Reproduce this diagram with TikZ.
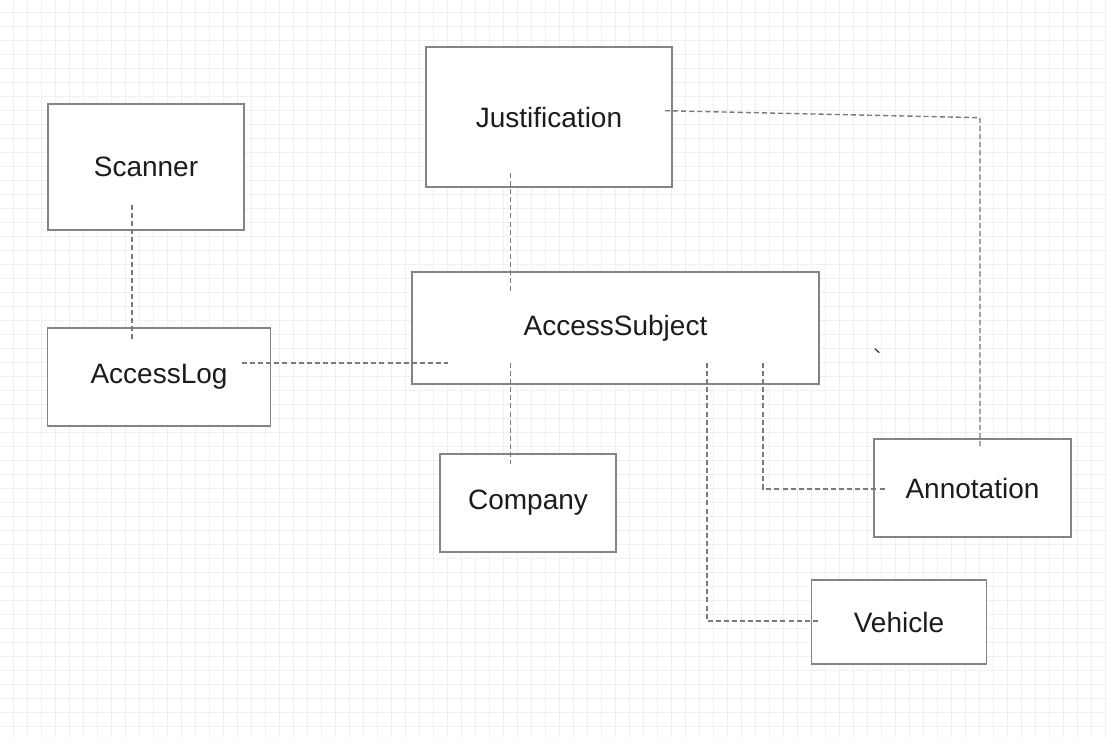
\documentclass[tikz,border=0pt]{standalone}
\usepackage{fontspec}
\setmainfont{Liberation Sans}
\usepackage{xcolor}
\usetikzlibrary{positioning}

\definecolor{gridgray}{HTML}{EFEFEF}
\definecolor{boxgray}{HTML}{848484}
\definecolor{linkgray}{HTML}{7A7A7A}
\definecolor{textgray}{HTML}{1C1C1C}

\begin{document}
\begin{tikzpicture}[
    x=0.03cm, y=-0.03cm,
    box/.style={rectangle, draw=boxgray, fill=white, line width=1.6pt, align=center,
        text=textgray, font=\fontsize{23.9}{28}\selectfont, inner sep=0pt},
    link/.style={draw=linkgray, line width=1.2pt, dash pattern=on 4.3pt off 2.6pt}
]
    % canvas and grid
    \useasboundingbox (0,0) rectangle (1107,738);
    \fill[white] (0,0) rectangle (1107,738);
    \foreach \gx in {0,...,78}
        \draw[gridgray, line width=0.85pt] (13.3+14*\gx,0) -- (13.3+14*\gx,738);
    \foreach \gy in {0,...,51}
        \draw[gridgray, line width=0.85pt] (0,12.7+14*\gy) -- (1107,12.7+14*\gy);

    % boxes
    \node[box, minimum width=5.88cm, minimum height=3.78cm] (scanner) at (146, 167) {Scanner};
    \node[box, minimum width=7.38cm, minimum height=4.2cm] (just) at (549, 117) {Justification};
    \node[box, minimum width=12.21cm, minimum height=3.36cm] (subject) at (615.5, 328) {AccessSubject};
    \node[box, minimum width=6.69cm, minimum height=2.94cm] (log) at (159, 377) {AccessLog};
    \node[box, minimum width=5.28cm, minimum height=2.94cm] (company) at (528, 503) {Company};
    \node[box, minimum width=5.91cm, minimum height=2.94cm] (annot) at (972.5, 488) {Annotation};
    \node[box, minimum width=5.25cm, minimum height=2.52cm] (vehicle) at (899, 622) {Vehicle};

    % links
    \draw[link] ([shift={(-14,38)}]scanner.center) -- ([shift={(-27,-35)}]log.center);
    \draw[link] ([shift={(83,-14)}]log.center) -- ([shift={(-167.5,35)}]subject.center);
    \draw[link] ([shift={(-38.5,56)}]just.center) -- ([shift={(-105,-36)}]subject.center);
    \draw[link] ([shift={(-105,35)}]subject.center) -- ([shift={(-17.5,-39)}]company.center);
    \draw[link] ([shift={(91.5,35)}]subject.center) |- ([shift={(-80,-1)}]vehicle.center);
    \draw[link] ([shift={(147.5,35)}]subject.center) |- ([shift={(-85.5,1)}]annot.center);
    \draw[link] ([shift={(116,-6.3)}]just.center) -- ([shift={(7.5,-370.3)}]annot.center)
        -- ([shift={(7.5,-41.3)}]annot.center);

    % stray tick
    \draw[textgray, line width=0.9pt] (874.7,348.7) -- (879.3,352.7);

\end{tikzpicture}
\end{document}
